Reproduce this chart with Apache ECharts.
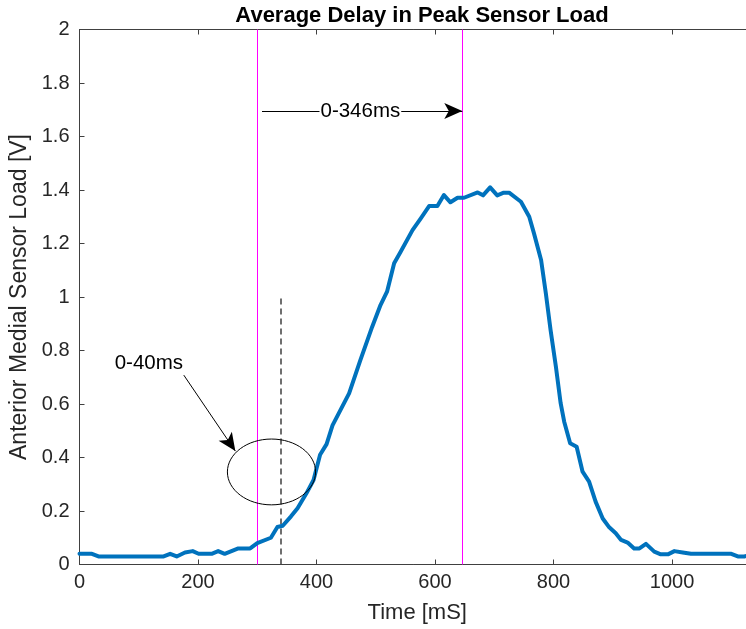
<!DOCTYPE html>
<html>
<head>
<meta charset="utf-8">
<script src="https://cdn.jsdelivr.net/npm/echarts@6/dist/echarts.min.js"></script>
<style>
  html, body { margin: 0; padding: 0; background: #fff; }
  #chart { width: 746px; height: 629px; }
</style>
</head>
<body>
<div id="chart"></div>
<script>
// Sample times [ms] and averaged anterior-medial sensor load [V]
const timeMs = [
  0, 21, 32, 142, 153, 164, 178, 191, 201, 223, 234, 245, 268, 288, 300,
  323, 334, 343, 357, 368, 383, 395, 406, 417, 427, 455, 474, 494, 508, 519,
  531, 542, 562, 576, 590, 604, 615, 626, 638, 649, 672, 681, 693, 705, 716,
  725, 745, 759, 767, 779, 787, 795, 804, 812, 818, 828, 839, 849, 860, 871,
  883, 894, 905, 914, 925, 936, 945, 956, 970, 981, 993, 1004, 1018, 1032, 1100,
  1111, 1122, 1130
];
const loadV = [
  0.04, 0.04, 0.03, 0.03, 0.04, 0.03, 0.045, 0.05, 0.04, 0.04, 0.05, 0.04, 0.06, 0.06, 0.08,
  0.10, 0.14, 0.145, 0.18, 0.21, 0.266, 0.316, 0.41, 0.45, 0.52, 0.64, 0.764, 0.889, 0.97, 1.02,
  1.126, 1.169, 1.25, 1.294, 1.34, 1.34, 1.381, 1.354, 1.371, 1.371, 1.391, 1.38, 1.41, 1.38, 1.39,
  1.39, 1.356, 1.30, 1.238, 1.138, 1.014, 0.877, 0.739, 0.603, 0.534, 0.453, 0.44, 0.347, 0.31, 0.235,
  0.172, 0.139, 0.117, 0.092, 0.082, 0.06, 0.06, 0.077, 0.048, 0.038, 0.038, 0.05, 0.045, 0.04, 0.04,
  0.03, 0.03, 0.035
];

// Event timing
const onsetMs = 300;       // load onset marker
const sensorDelayMs = 40;  // delay to sensor response
const peakDelayMs = 346;   // delay to peak load

const xTicks = [0, 200, 400, 600, 800, 1000];
const yTicks = [0, 0.2, 0.4, 0.6, 0.8, 1, 1.2, 1.4, 1.6, 1.8, 2];

const FONT = '"Liberation Sans", Arial, Helvetica, sans-serif';
const AXIS_COLOR = '#404040';
const TEXT_COLOR = '#262626';

const chart = echarts.init(document.getElementById('chart'), null, { renderer: 'canvas' });

const points = timeMs.map((t, i) => [t, loadV[i]]);

const axisCommon = {
  axisLine: { show: true, lineStyle: { color: AXIS_COLOR, width: 1 } },
  axisTick: { show: true, inside: true, length: 5, lineStyle: { color: AXIS_COLOR } },
  splitLine: { show: false }
};

chart.setOption({
  animation: false,
  backgroundColor: '#ffffff',
  title: {
    text: 'Average Delay in Peak Sensor Load',
    left: 417,
    top: 0,
    textAlign: 'center',
    textStyle: { fontFamily: FONT, fontWeight: 'bold', fontSize: 22, color: '#000' }
  },
  grid: {
    left: 79.5, top: 29.5, width: 675.5, height: 535,
    containLabel: false, outerBoundsMode: 'none'
  },
  xAxis: [
    Object.assign({
      type: 'value', min: 0, max: 1140, interval: 200, position: 'bottom',
      name: 'Time [mS]', nameLocation: 'middle', nameGap: 37,
      nameTextStyle: { fontFamily: FONT, fontSize: 22, color: TEXT_COLOR },
      axisLabel: {
        fontFamily: FONT, fontSize: 20, color: TEXT_COLOR, margin: 8,
        showMaxLabel: false,
        formatter: v => (xTicks.includes(v) ? String(v) : '')
      }
    }, axisCommon),
    Object.assign({
      type: 'value', min: 0, max: 1140, interval: 200, position: 'top',
      axisLabel: { show: false }
    }, axisCommon)
  ],
  yAxis: [
    Object.assign({
      type: 'value', min: 0, max: 2, interval: 0.2, position: 'left',
      name: 'Anterior Medial Sensor Load [V]', nameLocation: 'middle', nameGap: 45,
      nameTextStyle: { fontFamily: FONT, fontSize: 23, color: TEXT_COLOR },
      axisLabel: {
        fontFamily: FONT, fontSize: 20, color: TEXT_COLOR, margin: 10,
        formatter: v => {
          const t = yTicks.find(k => Math.abs(k - v) < 1e-6);
          return t === undefined ? '' : String(t);
        }
      }
    }, axisCommon)
  ],
  series: [
    {
      type: 'line',
      name: 'load',
      data: points,
      showSymbol: false,
      lineStyle: { color: '#0072BD', width: 4, join: 'round', cap: 'round' },
      z: 5,
      markLine: {
        silent: true,
        symbol: ['none', 'none'],
        label: { show: false },
        data: [
          [{ coord: [onsetMs, 0], lineStyle: { color: '#FF00FF', width: 1, type: 'solid' } },
           { coord: [onsetMs, 2] }],
          [{ coord: [onsetMs + peakDelayMs, 0], lineStyle: { color: '#FF00FF', width: 1, type: 'solid' } },
           { coord: [onsetMs + peakDelayMs, 2] }],
          [{ coord: [onsetMs + sensorDelayMs, 0], lineStyle: { color: '#404040', width: 1.5, type: [6, 4] } },
           { coord: [onsetMs + sensorDelayMs, 1] }],
          [{ coord: [308, 1.695], symbol: 'none', lineStyle: { color: '#000', width: 1, type: 'solid' } },
           { coord: [onsetMs + peakDelayMs, 1.695], symbol: 'arrow', symbolSize: [12, 18] }],
          [{ coord: [176, 0.708], symbol: 'none', lineStyle: { color: '#000', width: 1, type: 'solid' } },
           { coord: [263, 0.424], symbol: 'arrow', symbolSize: [12, 18] }]
        ]
      }
    },
    {
      // ellipse and text annotations in data coordinates
      type: 'custom',
      silent: true,
      z: 6,
      data: [[0, 0]],
      renderItem: (params, api) => {
        const c = api.coord([324, 0.346]);
        const e = api.coord([324 + 74.4, 0.346 - 0.123]);
        const rx = e[0] - c[0], ry = e[1] - c[1];
        const t1 = api.coord([117, 0.753]);
        const t2 = api.coord([474, 1.695]);
        return {
          type: 'group',
          children: [
            {
              type: 'ellipse',
              shape: { cx: c[0], cy: c[1], rx: rx, ry: ry },
              style: { fill: 'none', stroke: '#000', lineWidth: 1 }
            },
            {
              type: 'text',
              x: t1[0], y: t1[1],
              style: {
                text: '0-40ms', fontFamily: FONT, fontSize: 20.5, fill: '#000',
                align: 'center', verticalAlign: 'middle'
              }
            },
            {
              type: 'text',
              x: t2[0], y: t2[1],
              style: {
                text: '0-346ms', fontFamily: FONT, fontSize: 20.5, fill: '#000',
                align: 'center', verticalAlign: 'middle',
                backgroundColor: '#fff', padding: [0, 1]
              }
            }
          ]
        };
      }
    }
  ]
});
</script>
</body>
</html>
